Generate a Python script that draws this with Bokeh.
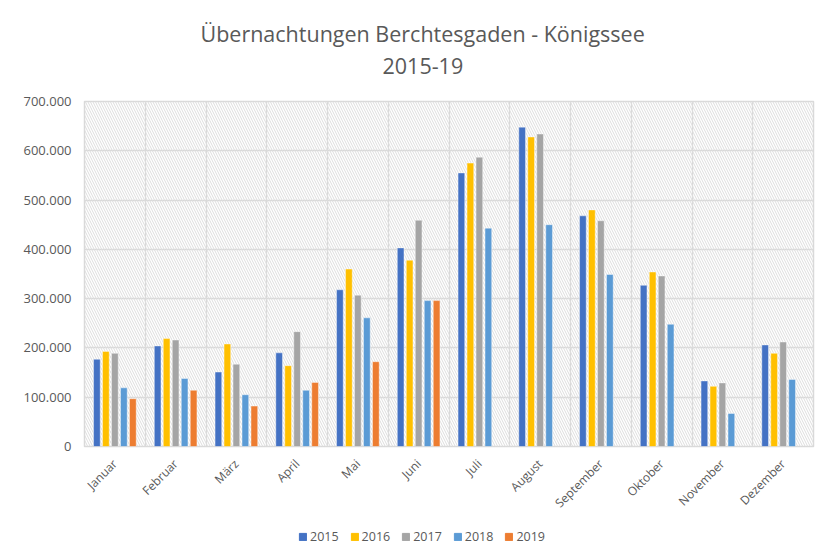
import numpy as np
from bokeh.plotting import figure
from bokeh.layouts import column
from bokeh.models import (ColumnDataSource, FixedTicker, BoxAnnotation, Legend, LegendItem, Title)
from bokeh.embed import file_html
from bokeh.resources import INLINE

months = ["Januar", "Februar", "März", "April", "Mai", "Juni", "Juli",
          "August", "September", "Oktober", "November", "Dezember"]
years = ["2015", "2016", "2017", "2018", "2019"]
v2015 = [177000, 204000, 151000, 190000, 318000, 403000, 555000, 648000, 468000, 327000, 133000, 206000]
v2016 = [193000, 219000, 208000, 164000, 360000, 378000, 575000, 628000, 480000, 354000, 122000, 189000]
v2017 = [189000, 216000, 167000, 233000, 307000, 459000, 587000, 634000, 458000, 346000, 129000, 212000]
v2018 = [119000, 138000, 105000, 114000, 261000, 296000, 443000, 450000, 349000, 248000, 67000, 136000]
v2019 = [97000, 114000, 82000, 130000, 172000, 296000, None, None, None, None, None, None]
colors = ["#4472C4", "#FFC000", "#A5A5A5", "#5B9BD5", "#ED7D31"]
y_ticks = [0, 100000, 200000, 300000, 400000, 500000, 600000, 700000]
y_labels = ["0", "100.000", "200.000", "300.000", "400.000", "500.000", "600.000", "700.000"]
title_lines = ["Übernachtungen Berchtesgaden - Königssee", "2015-19"]

series = [v2015, v2016, v2017, v2018, v2019]
xc = np.arange(len(months)) + 0.5

TXT = "#595959"
GRID = "#D9D9D9"

p = figure(width=829, height=526, output_backend="svg", toolbar_location=None,
           x_range=(0, len(months)), y_range=(0, 700000),
           min_border_left=84, min_border_right=16, min_border_top=101, min_border_bottom=80)
p.background_fill_color = "white"
p.border_fill_color = "white"
p.outline_line_color = GRID
p.outline_line_width = 1.5

p.add_layout(BoxAnnotation(fill_alpha=0, line_alpha=0, hatch_pattern="\\",
                           hatch_color="#DDDDDD", hatch_scale=5, hatch_weight=1,
                           level="underlay"))

p.title = None
# empty spacer between plot area and the title lines
p.add_layout(Title(text=" ", text_font="Open Sans", text_font_size="14px", standoff=0), "above")
p.add_layout(Title(text=title_lines[1], align="left", offset=298, text_font="Open Sans",
                   text_font_size="21.5px", text_font_style="normal", text_color=TXT,
                   standoff=14), "above")
p.add_layout(Title(text=title_lines[0], align="left", offset=116, text_font="Open Sans",
                   text_font_size="21.5px", text_font_style="normal", text_color=TXT,
                   standoff=2), "above")

bw = 0.11
step = 0.148
for i, (yr, vals, c) in enumerate(zip(years, series, colors)):
    top = [np.nan if v is None else v for v in vals]
    src = ColumnDataSource(dict(x=xc + (i - 2) * step, top=top))
    p.vbar(x="x", top="top", width=bw, bottom=0, source=src, fill_color=c,
           line_color="white", line_alpha=0.5, line_width=0.8)

p.xaxis.ticker = FixedTicker(ticks=list(xc))
p.xaxis.major_label_overrides = {float(x): m for x, m in zip(xc, months)}
p.xaxis.major_label_orientation = np.pi / 4
p.xaxis.axis_line_color = None
p.xaxis.major_tick_line_color = None
p.xaxis.minor_tick_line_color = None
p.xaxis.major_label_text_color = TXT
p.xaxis.major_label_text_font = "Open Sans"
p.xaxis.major_label_text_font_size = "12px"
p.xaxis.major_label_standoff = 9

p.yaxis.ticker = FixedTicker(ticks=y_ticks)
p.yaxis.major_label_overrides = {t: l for t, l in zip(y_ticks, y_labels)}
p.yaxis.axis_line_color = None
p.yaxis.major_tick_line_color = None
p.yaxis.minor_tick_line_color = None
p.yaxis.major_label_text_color = TXT
p.yaxis.major_label_text_font = "Open Sans"
p.yaxis.major_label_text_font_size = "13px"
p.yaxis.major_label_standoff = 7

p.xgrid.ticker = FixedTicker(ticks=list(range(len(months) + 1)))
p.xgrid.grid_line_color = GRID
p.xgrid.grid_line_width = 1.3
p.ygrid.ticker = FixedTicker(ticks=y_ticks)
p.ygrid.grid_line_color = GRID
p.ygrid.grid_line_width = 1.3

# legend strip below the chart
lf = figure(width=829, height=29, output_backend="svg", toolbar_location=None,
            x_axis_type=None, y_axis_type=None, x_range=(0, 1), y_range=(0, 1),
            min_border=0)
lf.outline_line_color = None
lf.xgrid.visible = False
lf.ygrid.visible = False
items = []
for yr, c in zip(years, colors):
    r = lf.vbar(x=[0.5], top=[np.nan], width=0.1, fill_color=c, line_color=c)
    items.append(LegendItem(label=yr, renderers=[r]))
legend = Legend(items=items, orientation="horizontal", location=(210, 6),
                label_text_font="Open Sans", label_text_font_size="12.5px",
                label_text_color=TXT, glyph_width=9, glyph_height=9,
                spacing=11, label_standoff=3, border_line_alpha=0,
                background_fill_alpha=0, margin=0, padding=4)
lf.add_layout(legend, "center")

open("out.html", "w").write(file_html(column(p, lf, spacing=0), INLINE))
